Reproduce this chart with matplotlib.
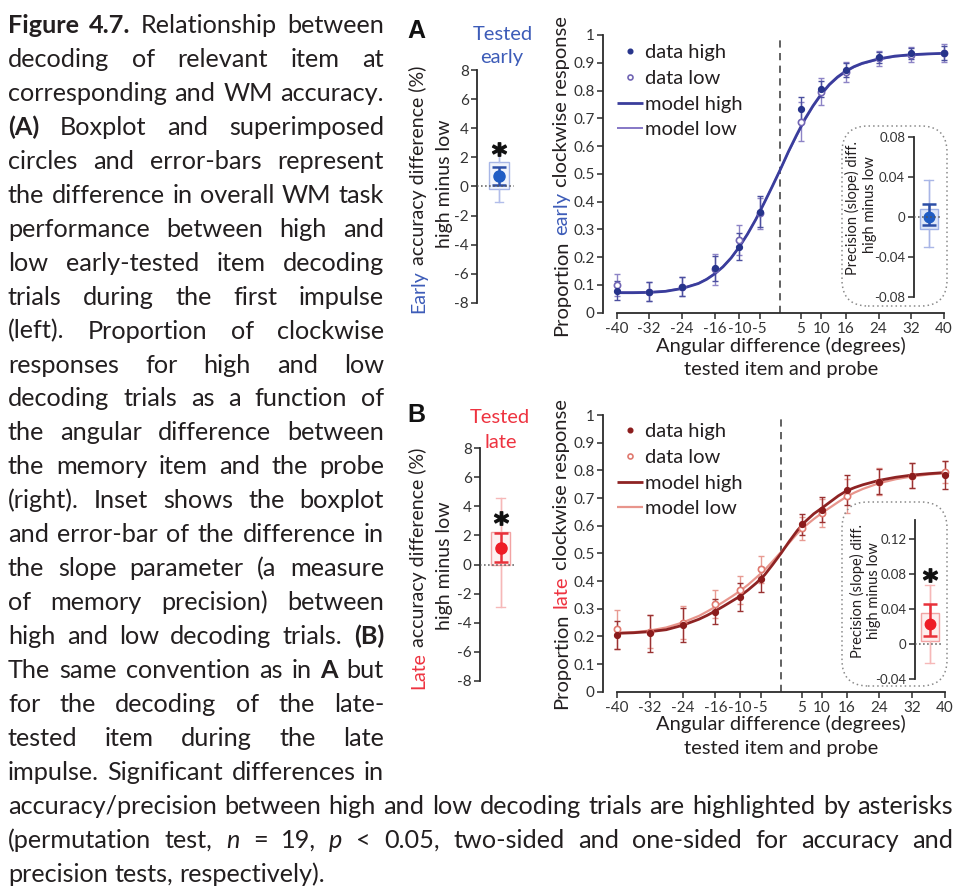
import matplotlib
matplotlib.use('Agg')
import matplotlib.pyplot as plt
from matplotlib.patches import FancyBboxPatch
from matplotlib.transforms import IdentityTransform

plt.rcParams['axes.unicode_minus'] = False
plt.rcParams['font.family'] = ['Lato', 'DejaVu Sans']

W, H, DPI = 958, 888, 100
fig = plt.figure(figsize=(W / DPI, H / DPI), dpi=DPI)
fig.patch.set_facecolor('white')
R = fig.canvas.get_renderer()
ID = IdentityTransform()

# ---------------- data ----------------
angles = [-40, -32, -24, -16, -10, -5, 5, 10, 16, 24, 32, 40]
angle_labels = ['-40', '-32', '-24', '-16', '-10', '-5', '5', '10', '16', '24', '32', '40']
prop_ticks = [0, 0.1, 0.2, 0.3, 0.4, 0.5, 0.6, 0.7, 0.8, 0.9, 1.0]
prop_labels = ['0', '0.1', '0.2', '0.3', '0.4', '0.5', '0.6', '0.7', '0.8', '0.9', '1']

early_high = [0.079, 0.076, 0.094, 0.160, 0.238, 0.364, 0.732, 0.806, 0.874, 0.920, 0.934, 0.934]
early_high_err = [0.035, 0.035, 0.035, 0.045, 0.050, 0.055, 0.045, 0.030, 0.025, 0.020, 0.020, 0.025]
early_low = [0.100, 0.076, 0.094, 0.156, 0.262, 0.358, 0.688, 0.796, 0.868, 0.916, 0.928, 0.934]
early_low_err = [0.040, 0.035, 0.035, 0.055, 0.055, 0.055, 0.070, 0.048, 0.036, 0.027, 0.027, 0.033]

late_high = [0.205, 0.211, 0.241, 0.289, 0.343, 0.407, 0.606, 0.657, 0.729, 0.759, 0.780, 0.783]
late_high_err = [0.050, 0.066, 0.063, 0.045, 0.050, 0.045, 0.038, 0.045, 0.055, 0.045, 0.045, 0.050]
late_low = [0.225, 0.217, 0.249, 0.317, 0.367, 0.442, 0.590, 0.645, 0.707, 0.759, 0.780, 0.795]
late_low_err = [0.072, 0.060, 0.060, 0.050, 0.050, 0.050, 0.042, 0.050, 0.060, 0.048, 0.045, 0.040]

model_x = [-40, -36, -32, -28, -24, -20, -18, -16, -14, -12, -10, -8, -6, -4, -2, 0,
           2, 4, 6, 8, 10, 12, 14, 16, 18, 20, 24, 28, 32, 36, 40]
early_model_high = [0.072, 0.072, 0.073, 0.077, 0.087, 0.105, 0.120, 0.140, 0.165, 0.197, 0.237,
                    0.283, 0.335, 0.393, 0.453, 0.515, 0.580, 0.640, 0.697, 0.745, 0.787, 0.822,
                    0.849, 0.870, 0.886, 0.898, 0.914, 0.924, 0.929, 0.932, 0.934]
early_model_low = [0.073, 0.073, 0.074, 0.078, 0.088, 0.106, 0.121, 0.141, 0.166, 0.198, 0.238,
                   0.284, 0.336, 0.394, 0.454, 0.515, 0.578, 0.637, 0.693, 0.742, 0.784, 0.819,
                   0.846, 0.867, 0.884, 0.896, 0.912, 0.922, 0.928, 0.931, 0.933]
late_model_high = [0.211, 0.213, 0.217, 0.224, 0.240, 0.262, 0.276, 0.292, 0.309, 0.327, 0.345,
                   0.368, 0.393, 0.422, 0.460, 0.500, 0.543, 0.583, 0.616, 0.643, 0.664, 0.686,
                   0.708, 0.726, 0.738, 0.748, 0.764, 0.775, 0.783, 0.788, 0.792]
late_model_low = [0.212, 0.215, 0.221, 0.232, 0.250, 0.274, 0.290, 0.307, 0.325, 0.344, 0.364,
                  0.387, 0.413, 0.440, 0.472, 0.505, 0.538, 0.572, 0.600, 0.624, 0.646, 0.666,
                  0.686, 0.705, 0.720, 0.733, 0.754, 0.768, 0.778, 0.785, 0.790]

acc_ticks = [-8, -6, -4, -2, 0, 2, 4, 6, 8]
acc_labels = ['-8', '-6', '-4', '-2', '0', '2', '4', '6', '8']
early_acc_box = [-0.2, 1.7]
early_acc_whisker = [-1.05, 2.4]
early_acc_mean = 0.7
early_acc_sem = [0.12, 1.37]
early_acc_star = 2.55
late_acc_box = [0.0, 2.25]
late_acc_whisker = [-2.9, 4.6]
late_acc_mean = 1.1
late_acc_sem = [0.18, 2.13]
late_acc_star = 3.2

early_slope_ticks = [-0.08, -0.04, 0, 0.04, 0.08]
early_slope_labels = ['-0.08', '-0.04', '0', '0.04', '0.08']
early_slope_box = [-0.012, 0.0075]
early_slope_whisker = [-0.030, 0.037]
early_slope_mean = 0.0
early_slope_sem = [-0.008, 0.013]
late_slope_ticks = [-0.04, 0, 0.04, 0.08, 0.12]
late_slope_labels = ['-0.04', '0', '0.04', '0.08', '0.12']
late_slope_box = [0.003, 0.035]
late_slope_whisker = [-0.022, 0.067]
late_slope_mean = 0.0225
late_slope_sem = [0.009, 0.046]
late_slope_star = 0.079

legend_labels = ['data high', 'data low', 'model high', 'model low']

caption_left = [
    "*Figure *4.7. Relationship between",
    "decoding of relevant item at",
    "corresponding and WM accuracy.",
    "*(A) Boxplot and superimposed",
    "circles and error-bars represent",
    "the difference in overall WM task",
    "performance between high and",
    "low early-tested item decoding",
    "trials during the first impulse",
    "(left). Proportion of clockwise",
    "responses for high and low",
    "decoding trials as a function of",
    "the angular difference between",
    "the memory item and the probe",
    "(right). Inset shows the boxplot",
    "and error-bar of the difference in",
    "the slope parameter (a measure",
    "of memory precision) between",
    "high and low decoding trials. *(B)",
    "The same convention as in *A but",
    "for the decoding of the late-",
    "tested item during the late",
    "impulse. Significant differences in",
]
caption_bottom = [
    "accuracy/precision between high and low decoding trials are highlighted by asterisks",
    "(permutation test, _n = 19, _p < 0.05, two-sided and one-sided for accuracy and",
    "precision tests, respectively).",
]

# ---------------- style ----------------
TXT = '#231f20'
AXC = '#2b2b2b'
BLUE_T = '#3d5cb8'
RED_T = '#ee3340'
A_HIGH, A_LOW = '#27348b', '#7266b4'
A_MHIGH, A_MLOW = '#3a3d9c', '#8577c6'
B_HIGH, B_LOW = '#8b1c1c', '#e07a70'
B_MHIGH, B_MLOW = '#8e2323', '#e8958c'


def measure(s, size, weight='normal', style='normal'):
    t = fig.text(0, 0, s, fontsize=size, fontweight=weight, fontstyle=style)
    w = t.get_window_extent(R).width
    t.remove()
    return w


def rot_label(pieces, xb, yc, size, weight='normal'):
    # pieces: list of (text, colour, space_before)
    full = ''
    starts = []
    for s, c, spc in pieces:
        if spc:
            full += ' '
        starts.append(measure(full + s, size, weight) - measure(s, size, weight))
        full += s
    total = measure(full, size, weight)
    y0 = (H - yc) - total / 2
    for (s, c, spc), off in zip(pieces, starts):
        fig.text(xb, y0 + off, s, rotation=90, rotation_mode='anchor', ha='left',
                 va='baseline', transform=ID, fontsize=size, fontweight=weight, color=c)


def ptext(x, y, s, size, **kw):
    fig.text(x, H - y, s, transform=ID, fontsize=size, **kw)


def axes_px(x0, x1, ytop, ybot):
    return fig.add_axes([x0 / W, 1 - ybot / H, (x1 - x0) / W, (ybot - ytop) / H])


def map_lim(p0, p1, d0, d1, e0, e1):
    s = (p1 - p0) / (d1 - d0)
    return d0 + (e0 - p0) / s, d0 + (e1 - p0) / s


def style_ax(ax):
    for s in ['top', 'right']:
        ax.spines[s].set_visible(False)
    for s in ['left', 'bottom']:
        ax.spines[s].set_color(AXC)
        ax.spines[s].set_linewidth(1.3)
    ax.tick_params(direction='out', length=4, width=1.1, colors=AXC, labelcolor='#333333', pad=2)
    ax.patch.set_alpha(0)


def main_panel(ytop, ybot, xm0, xm1, high, high_err, low, low_err, mh, ml,
               c_high, c_low, c_mh, c_ml, lw_ml, e_high, e_low, leg_top):
    ax = axes_px(603, 952, ytop, ybot)
    ax.set_xlim(*map_lim(xm0, xm1, -40, 40, 603, 952))
    ax.set_ylim(0, 1)
    style_ax(ax)
    ax.spines['bottom'].set_bounds(-40, 40)
    ax.spines['left'].set_bounds(0, 1)
    ax.set_xticks(angles, angle_labels, fontsize=11)
    ax.set_yticks(prop_ticks, prop_labels, fontsize=11)
    ax.tick_params(axis='x', pad=3)
    ax.axvline(0, color='#555555', ls=(0, (4, 3)), lw=1.3, zorder=1)
    ax.errorbar(angles, low, yerr=low_err, fmt='none', ecolor=e_low, elinewidth=1.0,
                capsize=2.5, capthick=1.0, zorder=2, clip_on=False)
    ax.errorbar(angles, high, yerr=high_err, fmt='none', ecolor=e_high, elinewidth=1.0,
                capsize=2.5, capthick=1.0, zorder=2, clip_on=False)
    l_ml, = ax.plot(model_x, ml, color=c_ml, lw=lw_ml, zorder=3, solid_capstyle='butt')
    l_mh, = ax.plot(model_x, mh, color=c_mh, lw=2.0, zorder=4, solid_capstyle='butt')
    p_low, = ax.plot(angles, low, 'o', ms=4.5, mfc='white', mec=c_low, mew=1.2, zorder=5,
                     clip_on=False)
    p_high, = ax.plot(angles, high, 'o', ms=4.2, color=c_high, zorder=6, clip_on=False)
    leg = ax.legend([p_high, p_low, l_mh, l_ml], legend_labels, loc='upper left',
                    bbox_to_anchor=(617, H - leg_top), bbox_transform=ID, frameon=False,
                    fontsize=14.5, handlelength=1.3, handletextpad=0.1, labelspacing=0.43,
                    borderpad=0, borderaxespad=0, markerscale=0.8)
    for t in leg.get_texts():
        t.set_color(TXT)
    return ax


def box_panel(ax, xc, bw, box, whisk, mean, sem, edge, fill, wcol, dark, dotc, ms, cw):
    ax.vlines([xc], whisk[0], whisk[1], color=wcol, lw=1.0, zorder=1)
    ax.bxp([dict(med=mean, q1=box[0], q3=box[1], whislo=whisk[0], whishi=whisk[1], fliers=[])],
           positions=[xc], widths=[bw], showfliers=False, patch_artist=True,
           boxprops=dict(facecolor=fill, edgecolor=edge, linewidth=1.0),
           whiskerprops=dict(color=wcol, lw=1.0), capprops=dict(color=wcol, lw=1.0),
           medianprops=dict(linewidth=0), manage_ticks=False, capwidths=[cw], zorder=2)
    ax.errorbar([xc], [mean], yerr=[[mean - sem[0]], [sem[1] - mean]], fmt='none',
                ecolor=dark, elinewidth=1.8, capsize=5, capthick=1.8, zorder=3)
    ax.plot([xc], [mean], 'o', ms=ms, color=dotc, zorder=4)


def small_axes(x0, x1, ytop, ybot, ylim, ticks, labels, fs):
    ax = axes_px(x0, x1, ytop, ybot)
    ax.set_ylim(*ylim)
    style_ax(ax)
    ax.spines['bottom'].set_visible(False)
    ax.set_xticks([])
    ax.set_yticks(ticks, labels, fontsize=fs)
    ax.spines['left'].set_bounds(ylim[0], ylim[1])
    ax.axhline(0, xmin=0, xmax=0.85, color='#555555', ls=':', lw=1.1, zorder=5)
    return ax


def star(ax, x, y, ms=10):
    ax.plot([x], [y], marker='$\\mathbf{*}$', ms=ms, color='#111111', zorder=6, clip_on=False)


# ---------------- panel A ----------------
axA = main_panel(35, 312.7, 616.5, 944, early_high, early_high_err, early_low, early_low_err,
                 early_model_high, early_model_low, A_HIGH, A_LOW, A_MHIGH, A_MLOW, 1.4,
                 '#4b4f9f', '#8d84c6', 44)
# ---------------- panel B ----------------
axB = main_panel(415, 691.7, 617, 945, late_high, late_high_err, late_low, late_low_err,
                 late_model_high, late_model_low, B_HIGH, B_LOW, B_MHIGH, B_MLOW, 1.6,
                 '#9a3232', '#e89a92', 423)

# left small panels
saA = small_axes(477, 520, 70, 303, (-8, 8), acc_ticks, acc_labels, 11)
saA.set_xlim(0, 1)
box_panel(saA, 0.51, 0.47, early_acc_box, early_acc_whisker, early_acc_mean, early_acc_sem,
          '#a7b6e6', '#f1f4fc', '#b2bdea', '#2c4ea6', '#1f5cc4', 8, 0.2)
star(saA, 0.51, early_acc_star)

saB = small_axes(480, 522, 448, 681, (-8, 8), acc_ticks, acc_labels, 11)
saB.set_xlim(0, 1)
box_panel(saB, 0.49, 0.47, late_acc_box, late_acc_whisker, late_acc_mean, late_acc_sem,
          '#f2a3a3', '#fdf1f1', '#f6b8b8', '#e8313a', '#ee1c25', 8, 0.2)
star(saB, 0.49, late_acc_star)

# insets
for (x0, y0, y1) in [(842, 126, 306), (842, 502, 686)]:
    fig.add_artist(FancyBboxPatch((x0, H - y1), 105, y1 - y0,
                                  boxstyle='round,pad=0,rounding_size=26', transform=ID,
                                  fill=False, ls=(0, (1, 2)), ec='#8a8a8a', lw=1.1))

inA = small_axes(913.5, 945, 137, 297, (-0.08, 0.08), early_slope_ticks, early_slope_labels, 9.5)
inA.set_xlim(0, 1)
box_panel(inA, 0.48, 0.57, early_slope_box, early_slope_whisker, early_slope_mean,
          early_slope_sem, '#9fb2e6', '#dfe7f8', '#a9b6e6', '#2c4ea6', '#1f5cc4', 7.5, 0.3)

inB = small_axes(915, 946, 519.75, 679, (-0.04, 0.1417), late_slope_ticks, late_slope_labels, 9.5)
inB.set_xlim(0, 1)
box_panel(inB, 0.47, 0.58, late_slope_box, late_slope_whisker, late_slope_mean,
          late_slope_sem, '#f2a3a3', '#fdeeee', '#f6b8b8', '#e8313a', '#ee1c25', 7.5, 0.3)
star(inB, 0.47, late_slope_star)

# ---------------- panel labels ----------------
ptext(407, 38, 'A', 18, family='Liberation Sans', fontweight='bold', color='#111111')
ptext(407, 422, 'B', 18, family='Liberation Sans', fontweight='bold', color='#111111')
ptext(503, 40, 'Tested', 14.5, ha='center', color=BLUE_T)
ptext(502, 63, 'early', 14.5, ha='center', color=BLUE_T)
ptext(500, 423, 'Tested', 14.5, ha='center', color=RED_T)
ptext(501, 448, 'late', 14.5, ha='center', color=RED_T)

rot_label([('Early', BLUE_T, False), ('accuracy difference (%)', TXT, True)], 424, 189, 14)
rot_label([('high minus low', TXT, False)], 450, 184, 14)
rot_label([('Late', RED_T, False), ('accuracy difference (%)', TXT, True)], 424, 568, 14)
rot_label([('high minus low', TXT, False)], 450, 566, 14)
rot_label([('Proportion', TXT, False), ('early', BLUE_T, True),
           ('clockwise response', TXT, True)], 567, 176, 14.5)
rot_label([('Proportion', TXT, False), ('late', RED_T, True),
           ('clockwise response', TXT, True)], 567, 554, 14.5)
rot_label([('Precision (slope) diff.', TXT, False)], 857, 208, 10.5)
rot_label([('high minus low', TXT, False)], 874, 205, 10.5)
rot_label([('Precision (slope) diff.', TXT, False)], 862, 591, 10.5)
rot_label([('high minus low', TXT, False)], 878, 591, 10.5)

for yb in (351.5, 730):
    ptext(781, yb, 'Angular difference (degrees)', 14.5, ha='center', color=TXT)
    ptext(781, yb + 23.5, 'tested item and probe', 14.5, ha='center', color=TXT)

# ---------------- caption ----------------
CFS0 = 20.0


def parse(tok):
    if tok.startswith('*'):
        return tok[1:], 'bold', 'normal'
    if tok.startswith('_'):
        return tok[1:], 'normal', 'italic'
    return tok, 'normal', 'normal'


def natural(line, size):
    toks = [parse(t) for t in line.split()]
    ws = [measure(t, size, wt, st) for t, wt, st in toks]
    sp = measure('a a', size) - measure('aa', size)
    return toks, ws, sum(ws) + sp * (len(ws) - 1), sp


LX0, LX1, BX1 = 8, 384, 953
fits = [CFS0 * (BX1 - LX0 - 6) / natural(caption_bottom[0], CFS0)[2],
        CFS0 * (BX1 - LX0 - 2) / natural(caption_bottom[1], CFS0)[2]]
for ln in caption_left:
    fits.append(CFS0 * (LX1 - LX0 - 2) / natural(ln, CFS0)[2])
CFS = min(fits)


def draw_line(line, x0, x1, ybase, justify):
    toks, ws, nat, sp = natural(line, CFS)
    gap = (x1 - x0 - sum(ws)) / (len(ws) - 1) if (justify and len(ws) > 1) else sp
    x = x0
    for (t, wt, st), w in zip(toks, ws):
        fig.text(x, H - ybase, t, transform=ID, fontsize=CFS, fontweight=wt, fontstyle=st,
                 color=TXT, ha='left', va='baseline')
        x += w + gap


LSP = 33.95
for i, ln in enumerate(caption_left):
    draw_line(ln, LX0, LX1, 33 + LSP * i, True)
n0 = len(caption_left)
for j, ln in enumerate(caption_bottom):
    draw_line(ln, LX0, BX1, 33 + LSP * (n0 + j), j < len(caption_bottom) - 1)

fig.savefig('out.png', dpi=DPI, facecolor='white')
